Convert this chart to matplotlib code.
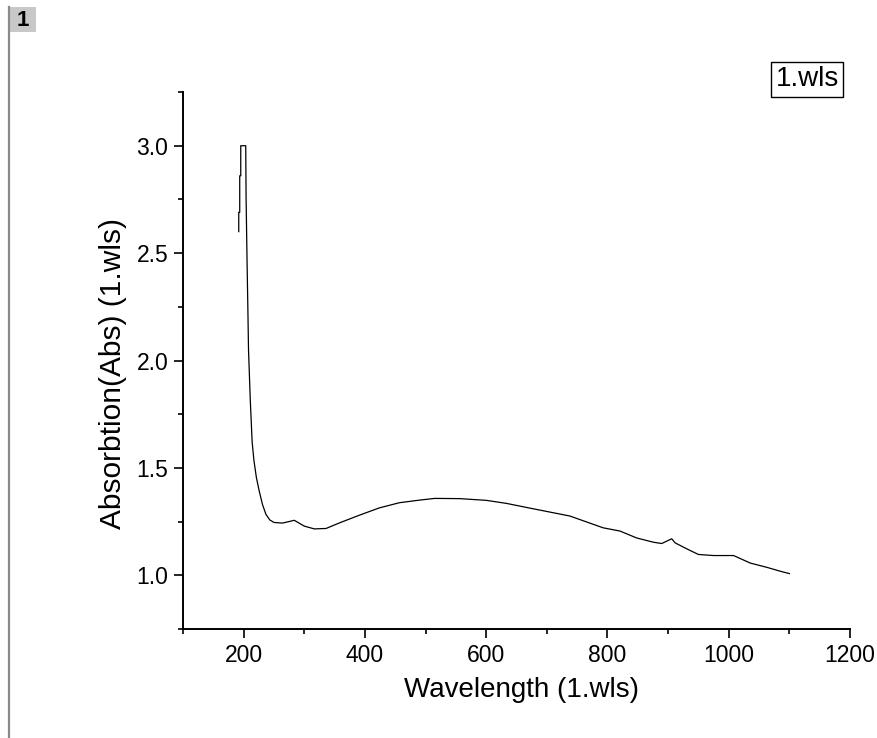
import matplotlib
matplotlib.use("Agg")
import matplotlib.pyplot as plt
import matplotlib.ticker as mtick
from matplotlib.patches import Rectangle
from matplotlib.lines import Line2D

# wavelength (nm) and absorbance
wavelength = [191.9, 191.9, 193.5, 193.5, 195.2, 195.2, 203.4, 204.0, 205.6, 207.0,
              208.0, 211.0, 214.0, 217.0, 221.0, 225.6, 231.0, 236.7, 243.0, 250.0,
              264.0, 283.5, 300.0, 316.5, 335.8, 358.0, 391.0, 424.0, 457.0, 490.0,
              515.0, 556.0, 600.0, 633.0, 677.0, 738.0, 793.0, 820.7, 848.0, 875.7,
              889.5, 906.0, 911.6, 930.9, 950.0, 975.0, 1008.0, 1019.0, 1035.5, 1063.0,
              1085.0, 1100.0]
absorbance = [2.60, 2.69, 2.69, 2.86, 2.86, 3.00, 3.00, 2.76, 2.46, 2.23,
              2.05, 1.81, 1.62, 1.533, 1.455, 1.393, 1.33, 1.284, 1.258, 1.246,
              1.243, 1.256, 1.229, 1.216, 1.218, 1.244, 1.280, 1.314, 1.338, 1.350,
              1.358, 1.357, 1.349, 1.335, 1.310, 1.276, 1.221, 1.206, 1.174, 1.154,
              1.148, 1.170, 1.151, 1.123, 1.097, 1.092, 1.092, 1.078, 1.057, 1.037,
              1.019, 1.008]

plt.rcParams['font.family'] = ['Liberation Sans', 'DejaVu Sans']

fig = plt.figure(figsize=(8.77, 7.38), dpi=100)
ax = fig.add_axes([0.2087, 0.1477, 0.7605, 0.7276])

ax.plot(wavelength, absorbance, color='black', linewidth=0.9)

ax.set_xlim(100, 1200)
ax.set_ylim(0.75, 3.25)
ax.xaxis.set_major_locator(mtick.MultipleLocator(200))
ax.xaxis.set_minor_locator(mtick.MultipleLocator(100))
ax.yaxis.set_major_locator(mtick.MultipleLocator(0.5))
ax.yaxis.set_minor_locator(mtick.MultipleLocator(0.25))
ax.yaxis.set_major_formatter(mtick.FormatStrFormatter('%.1f'))

for side in ['top', 'right']:
    ax.spines[side].set_visible(False)
for side in ['left', 'bottom']:
    ax.spines[side].set_linewidth(1.4)

ax.tick_params(which='major', direction='out', length=6.5, width=1.2, labelsize=16.5, pad=4)
ax.tick_params(which='minor', direction='out', length=3.5, width=1.2)

ax.set_xlabel('Wavelength (1.wls)', fontsize=20)
ax.set_ylabel('Absorbtion(Abs) (1.wls)', fontsize=21.5)
ax.xaxis.set_label_coords(0.508, -0.114)
ax.xaxis.label.set_va('center')
ax.yaxis.set_label_coords(-0.105, 0.476)
ax.yaxis.label.set_va('center')

# legend-like box in the upper right
fig.text(807 / 877, 1 - 79.5 / 738, '1.wls', fontsize=20, ha='center', va='center',
         bbox=dict(boxstyle='square,pad=0.15', facecolor='white', edgecolor='black', linewidth=1))

# page marker at the top left
fig.add_artist(Line2D([8.5 / 877, 8.5 / 877], [0, 1 - 7 / 738], color='#8a8a8a', linewidth=1.6))
fig.add_artist(Rectangle((8.5 / 877, 1 - 32 / 738), 27.5 / 877, 25 / 738, facecolor='#c8c8c8',
                         edgecolor='none', transform=fig.transFigure))
fig.text(22.5 / 877, 1 - 20 / 738, '1', fontsize=16, fontweight='bold', ha='center', va='center')

fig.savefig('out.png', dpi=100)
